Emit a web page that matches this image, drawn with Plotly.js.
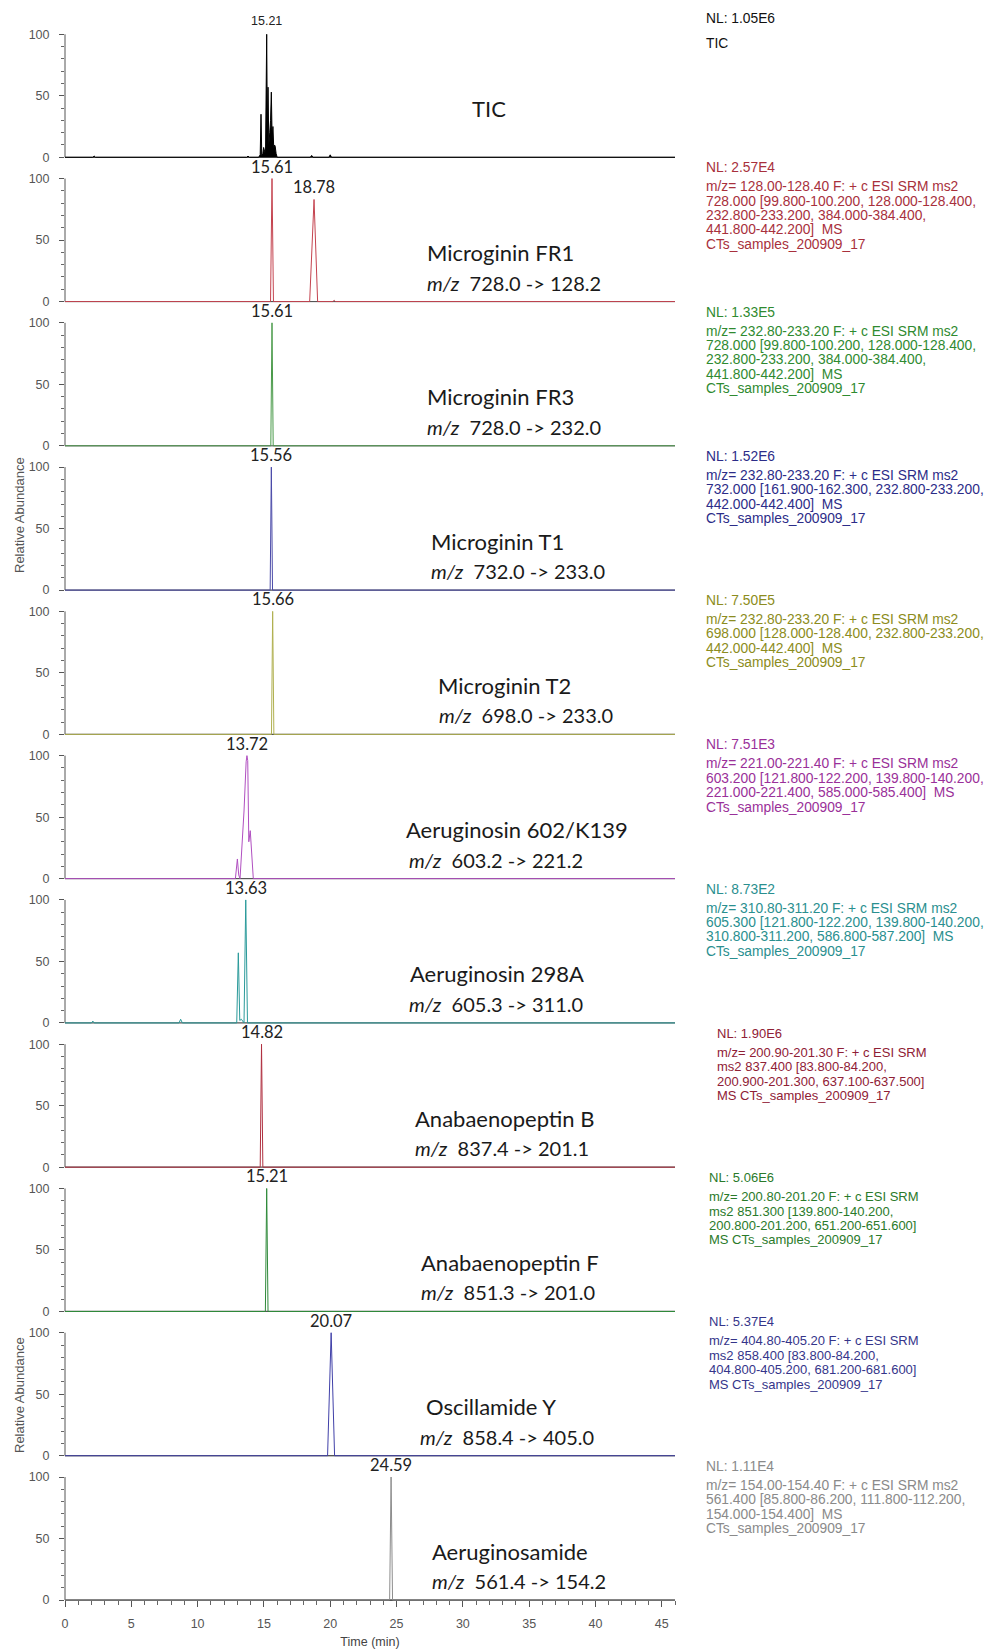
<!DOCTYPE html>
<html><head><meta charset="utf-8">
<script src="https://cdn.plot.ly/plotly-3.0.1.min.js"></script>
<style>html,body{margin:0;padding:0;background:#fff}#chart{width:990px;height:1650px}</style>
</head><body><div id="chart"></div>
<script>
// ---------------- DATA ----------------
const compounds = ["TIC","Microginin FR1","Microginin FR3","Microginin T1","Microginin T2",
  "Aeruginosin 602/K139","Aeruginosin 298A","Anabaenopeptin B","Anabaenopeptin F","Oscillamide Y","Aeruginosamide"];
const transitions = ["","728.0 -> 128.2","728.0 -> 232.0","732.0 -> 233.0","698.0 -> 233.0",
  "603.2 -> 221.2","605.3 -> 311.0","837.4 -> 201.1","851.3 -> 201.0","858.4 -> 405.0","561.4 -> 154.2"];

const tic_t = [0,2.1,2.2,2.3,13.7,13.8,13.9,14.6,14.72,14.78,14.84,14.92,14.98,15.05,15.12,15.21,15.26,15.31,15.37,15.44,15.5,15.56,15.62,15.68,15.74,15.8,15.85,15.92,16.0,18.5,18.6,18.7,19.9,20.0,20.1,46];
const tic_y = [0,0,1,0,0,1,0,0,2,35,1,3,8,4,2,100,20,57,10,20,30,53,15,25,8,10,9,3,0,0,1.5,0,0,2,0,0];

const fr1_t = [0,15.5,15.61,15.72,18.45,18.78,19.05,20.2,20.3,20.4,46];
const fr1_y = [0,0,100,0,0,83,0,0,1,0,0];

const fr3_t = [0,15.52,15.61,15.7,46];
const fr3_y = [0,0,100,0,0];

const t1_t = [0,15.47,15.56,15.65,46];
const t1_y = [0,0,100,0,0];

const t2_t = [0,15.57,15.66,15.75,46];
const t2_y = [0,0,100,0,0];

const a602_t = [0,12.85,13.0,13.1,13.2,13.5,13.66,13.72,13.78,13.86,13.97,14.08,14.2,46];
const a602_y = [0,0,16,3,0,55,95,100,96,30,39,15,0,0];

const a298_t = [0,2.0,2.1,2.2,8.6,8.72,8.85,12.95,13.07,13.18,13.3,13.5,13.63,13.76,46];
const a298_y = [0,0,1.5,0,0,3,0,0,57,2,3,0,100,0,0];

const anaB_t = [0,14.72,14.82,14.92,46];
const anaB_y = [0,0,100,0,0];

const anaF_t = [0,15.11,15.21,15.31,46];
const anaF_y = [0,0,100,0,0];

const oscY_t = [0,19.8,20.07,20.33,46];
const oscY_y = [0,0,100,0,0];

const amide_t = [0,24.48,24.59,24.7,46];
const amide_y = [0,0,100,0,0];

const peakTimes = [[15.21],[15.61,18.78],[15.61],[15.56],[15.66],[13.72],[13.63],[14.82],[15.21],[20.07],[24.59]];
const peakHeights = [[100],[100,83],[100],[100],[100],[100],[100],[100],[100],[100],[100]];
const peakLabels = [["15.21"],["15.61","18.78"],["15.61"],["15.56"],["15.66"],["13.72"],["13.63"],["14.82"],["15.21"],["20.07"],["24.59"]];

const scanInfo = [
  ["NL: 1.05E6","TIC"],
  ["NL: 2.57E4","m/z= 128.00-128.40 F: + c ESI SRM ms2","728.000 [99.800-100.200, 128.000-128.400,","232.800-233.200, 384.000-384.400,","441.800-442.200]  MS","CTs_samples_200909_17"],
  ["NL: 1.33E5","m/z= 232.80-233.20 F: + c ESI SRM ms2","728.000 [99.800-100.200, 128.000-128.400,","232.800-233.200, 384.000-384.400,","441.800-442.200]  MS","CTs_samples_200909_17"],
  ["NL: 1.52E6","m/z= 232.80-233.20 F: + c ESI SRM ms2","732.000 [161.900-162.300, 232.800-233.200,","442.000-442.400]  MS","CTs_samples_200909_17"],
  ["NL: 7.50E5","m/z= 232.80-233.20 F: + c ESI SRM ms2","698.000 [128.000-128.400, 232.800-233.200,","442.000-442.400]  MS","CTs_samples_200909_17"],
  ["NL: 7.51E3","m/z= 221.00-221.40 F: + c ESI SRM ms2","603.200 [121.800-122.200, 139.800-140.200,","221.000-221.400, 585.000-585.400]  MS","CTs_samples_200909_17"],
  ["NL: 8.73E2","m/z= 310.80-311.20 F: + c ESI SRM ms2","605.300 [121.800-122.200, 139.800-140.200,","310.800-311.200, 586.800-587.200]  MS","CTs_samples_200909_17"],
  ["NL: 1.90E6","m/z= 200.90-201.30 F: + c ESI SRM","ms2 837.400 [83.800-84.200,","200.900-201.300, 637.100-637.500]","MS CTs_samples_200909_17"],
  ["NL: 5.06E6","m/z= 200.80-201.20 F: + c ESI SRM","ms2 851.300 [139.800-140.200,","200.800-201.200, 651.200-651.600]","MS CTs_samples_200909_17"],
  ["NL: 5.37E4","m/z= 404.80-405.20 F: + c ESI SRM","ms2 858.400 [83.800-84.200,","404.800-405.200, 681.200-681.600]","MS CTs_samples_200909_17"],
  ["NL: 1.11E4","m/z= 154.00-154.40 F: + c ESI SRM ms2","561.400 [85.800-86.200, 111.800-112.200,","154.000-154.400]  MS","CTs_samples_200909_17"]
];

const xTickVals = [0,5,10,15,20,25,30,35,40,45];
const yTickVals = [0,50,100];

// ---------------- STYLE / LAYOUT ----------------
const series = [[tic_t,tic_y],[fr1_t,fr1_y],[fr3_t,fr3_y],[t1_t,t1_y],[t2_t,t2_y],[a602_t,a602_y],
  [a298_t,a298_y],[anaB_t,anaB_y],[anaF_t,anaF_y],[oscY_t,oscY_y],[amide_t,amide_y]];
const lineColors = ["#000000","#c4434f","#4a9a4a","#4a4aa8","#b0b050","#b04fc0","#2a9a9a","#b03040","#2f8a3a","#4040a8","#8c8c8c"];
const textColors = ["#111111","#a8303c","#2f8a30","#2c2c88","#8c8c20","#9a3099","#2a8f8f","#8f2035","#2a7a2a","#35358a","#8a8a8a"];
const infoX = [704,704,704,704,704,704,704,715,707,707,704];   // px from left
const infoSize = [13.8,13.8,13.8,13.8,13.8,13.8,13.8,13,13,13,13.8];
const nameX = [489,425,425,429,436,404,408,413,419,424,430];
const mzX   = [0,425,425,429,437,407,407,413,419,418,430];

const W = 990, H = 1650, ML = 65, MR = 315, MT = 14, MB = 49;
const N = compounds.length;
const YMIN = -0.8, YMAX = 116.5;
const plotH = H - MT - MB, panelH = plotH / N, unitPerPx = (YMAX - YMIN) / panelH;
const pxToPaperX = px => (px - ML) / (W - ML - MR);

const traces = [];
const annotations = [];
const shapes = [];
const layout = {
  width: W, height: H, margin: {l: ML, r: MR, t: MT, b: MB},
  paper_bgcolor: "#fff", plot_bgcolor: "rgba(0,0,0,0)", showlegend: false,
  font: {family: "Liberation Sans, Arial, sans-serif", size: 12, color: "#444"},
  xaxis: {range: [0, 46], anchor: "free", position: ((0 - YMIN) / (YMAX - YMIN)) / N,
    showline: true, linecolor: "#555", linewidth: 1.2, showgrid: false, zeroline: false,
    tickvals: xTickVals, ticks: "outside", ticklen: 6, tickcolor: "#555", tickwidth: 1,
    minor: {dtick: 1, ticks: "outside", ticklen: 4, tickcolor: "#666"},
    tickfont: {size: 12.5, color: "#555"}, ticklabelstandoff: 6,
    title: {text: "Time (min)", font: {size: 12.5, color: "#444"}, standoff: 7}},
  annotations, shapes
};

for (let k = 0; k < N; k++) {
  const yname = "y" + (k === 0 ? "" : (k + 1));
  const yaxKey = "yaxis" + (k === 0 ? "" : (k + 1));
  layout[yaxKey] = {
    domain: [1 - (k + 1) / N, 1 - k / N], range: [YMIN, YMAX], anchor: "x",
    showline: false, showgrid: false, zeroline: false, fixedrange: true,
    tickvals: yTickVals, ticks: "outside", ticklen: 5, tickcolor: "#555",
    minor: {tickvals: [10,20,30,40,60,70,80,90], ticks: "outside", ticklen: 3, tickcolor: "#666"},
    tickfont: {size: 12.5, color: "#555"}, ticklabelstandoff: 7
  };
  const [tt, yy] = series[k];
  traces.push({
    type: "scatter", mode: "lines", x: tt, y: yy, xaxis: "x", yaxis: yname,
    line: {color: lineColors[k], width: 1},
    fill: k === 0 ? "tozeroy" : "none", fillcolor: "#000", hoverinfo: "skip"
  });
  shapes.push({type: "line", xref: "paper", yref: yname, x0: 0, x1: 1, y0: 0, y1: 0,
    line: {color: "#555", width: 1.3}, layer: "below"});
  shapes.push({type: "line", xref: "paper", yref: yname, x0: 0, x1: 0, y0: 0, y1: 100,
    line: {color: "#555", width: 1}, layer: "below"});
  peakTimes[k].forEach((t, i) => {
    annotations.push({xref: "x", yref: yname, x: t, y: peakHeights[k][i], text: peakLabels[k][i],
      showarrow: false, yanchor: "bottom", xanchor: "center", yshift: k === 0 ? 4 : 0,
      font: {family: k === 0 ? "Liberation Sans, Arial" : "Lato, sans-serif", size: k === 0 ? 12.5 : 16.5, color: "#222"}});
  });
  annotations.push({xref: "paper", yref: yname, x: pxToPaperX(nameX[k]), y: 49 * unitPerPx,
    text: compounds[k], showarrow: false, xanchor: k === 0 ? "center" : "left", yanchor: "middle",
    font: {family: "Lato, sans-serif", size: 22, color: "#1a1a1a"}});
  if (transitions[k]) {
    annotations.push({xref: "paper", yref: yname, x: pxToPaperX(mzX[k]), y: 19 * unitPerPx,
      text: "<i>m/z</i>  " + transitions[k], showarrow: false, xanchor: "left", yanchor: "middle",
      font: {family: "Lato, sans-serif", size: 20, color: "#1a1a1a"}});
  }
  scanInfo[k].forEach((line, i) => {
    const offPx = k === 0 ? 4.5 + i * 25 : 9.5 + (i === 0 ? 0 : 19 + (i - 1) * 14.4);
    annotations.push({xref: "paper", yref: yname, x: pxToPaperX(infoX[k]), y: YMAX - offPx * unitPerPx,
      text: line, showarrow: false, xanchor: "left", yanchor: "middle",
      font: {family: "Liberation Sans, Arial, sans-serif", size: infoSize[k], color: textColors[k]}});
  });
}

annotations.push({xref: "paper", yref: "paper", x: pxToPaperX(19), y: 1 - (515 - MT) / plotH,
  xanchor: "center", yanchor: "middle",
  text: "Relative Abundance", textangle: -90, showarrow: false,
  font: {size: 13, color: "#555"}});
annotations.push({xref: "paper", yref: "paper", x: pxToPaperX(19), y: 1 - (1395 - MT) / plotH,
  xanchor: "center", yanchor: "middle",
  text: "Relative Abundance", textangle: -90, showarrow: false,
  font: {size: 13, color: "#555"}});

Plotly.newPlot("chart", traces, layout, {staticPlot: true, displayModeBar: false});
</script>
</body></html>
